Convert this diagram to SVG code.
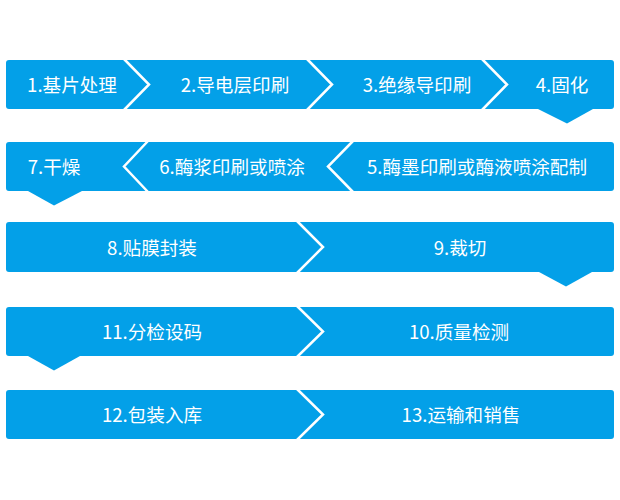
<svg xmlns="http://www.w3.org/2000/svg" width="620" height="500" viewBox="0 0 620 500">
  <style>
    .box { fill: #03A0E8; }
    .sep { fill: none; stroke: #FFFFFF; stroke-width: 2.5; stroke-linejoin: miter; }
    .lbl { font-family: "Noto Sans CJK SC", "Noto Sans", sans-serif; font-size: 18.6px; fill: #FFFFFF; text-anchor: middle; }
    .conn { fill: #03A0E8; }
  </style>
  <rect width="620" height="500" fill="#FFFFFF"/>

  <!-- Row 1 -->
  <g id="n1">
    <path class="box" d="M9,60 H124 L149,84.5 L124,109 H9 A3,3 0 0 1 6,106 V63 A3,3 0 0 1 9,60 Z"/>
    <text class="lbl" x="72" y="92">1.基片处理</text>
  </g>
  <g id="n2">
    <path class="box" d="M124,60 H307 L332,84.5 L307,109 H124 L149,84.5 Z"/>
    <polyline class="sep" points="124,59 149,84.5 124,110"/>
    <text class="lbl" x="235" y="92">2.导电层印刷</text>
  </g>
  <g id="n3">
    <path class="box" d="M307,60 H482 L507,84.5 L482,109 H307 L332,84.5 Z"/>
    <polyline class="sep" points="307,59 332,84.5 307,110"/>
    <text class="lbl" x="417" y="92">3.绝缘导印刷</text>
  </g>
  <g id="n4">
    <path class="box" d="M482,60 H611 A3,3 0 0 1 614,63 V106 A3,3 0 0 1 611,109 H482 L507,84.5 Z"/>
    <polyline class="sep" points="482,59 507,84.5 482,110"/>
    <text class="lbl" x="562" y="92">4.固化</text>
  </g>

  <!-- Row 2 -->
  <g id="n7">
    <path class="box" d="M9,142 H148 L124,166.5 L148,191 H9 A3,3 0 0 1 6,188 V145 A3,3 0 0 1 9,142 Z"/>
    <text class="lbl" x="54" y="174">7.干燥</text>
  </g>
  <g id="n6">
    <path class="box" d="M148,142 H353 L328,166.5 L353,191 H148 L124,166.5 Z"/>
    <polyline class="sep" points="148,141 124,166.5 148,192"/>
    <text class="lbl" x="232" y="174">6.酶浆印刷或喷涂</text>
  </g>
  <g id="n5">
    <path class="box" d="M353,142 H611 A3,3 0 0 1 614,145 V188 A3,3 0 0 1 611,191 H353 L328,166.5 Z"/>
    <polyline class="sep" points="353,141 328,166.5 353,192"/>
    <text class="lbl" x="477" y="174">5.酶墨印刷或酶液喷涂配制</text>
  </g>

  <!-- Row 3 -->
  <g id="n8">
    <path class="box" d="M9,222 H297 L323,247 L297,272 H9 A3,3 0 0 1 6,269 V225 A3,3 0 0 1 9,222 Z"/>
    <text class="lbl" x="152" y="254.5">8.贴膜封装</text>
  </g>
  <g id="n9">
    <path class="box" d="M297,222 H611 A3,3 0 0 1 614,225 V269 A3,3 0 0 1 611,272 H297 L323,247 Z"/>
    <polyline class="sep" points="297,221 323,247 297,273"/>
    <text class="lbl" x="460" y="254.5">9.裁切</text>
  </g>

  <!-- Row 4 -->
  <g id="n11">
    <path class="box" d="M9,307 H297 L323,331.5 L297,356 H9 A3,3 0 0 1 6,353 V310 A3,3 0 0 1 9,307 Z"/>
    <text class="lbl" x="152" y="339">11.分检设码</text>
  </g>
  <g id="n10">
    <path class="box" d="M297,307 H611 A3,3 0 0 1 614,310 V353 A3,3 0 0 1 611,356 H297 L323,331.5 Z"/>
    <polyline class="sep" points="297,306 323,331.5 297,357"/>
    <text class="lbl" x="459" y="339">10.质量检测</text>
  </g>

  <!-- Row 5 -->
  <g id="n12">
    <path class="box" d="M9,390 H297 L323,414.5 L297,439 H9 A3,3 0 0 1 6,436 V393 A3,3 0 0 1 9,390 Z"/>
    <text class="lbl" x="152" y="422">12.包装入库</text>
  </g>
  <g id="n13">
    <path class="box" d="M297,390 H611 A3,3 0 0 1 614,393 V436 A3,3 0 0 1 611,439 H297 L323,414.5 Z"/>
    <polyline class="sep" points="297,389 323,414.5 297,440"/>
    <text class="lbl" x="461" y="422">13.运输和销售</text>
  </g>

  <!-- Connectors: downward pointers between rows -->
  <g id="connectors">
    <polygon class="conn" points="538,108 593,108 593,109 567,123.5 538,109"/>
    <polygon class="conn" points="28,190 82,190 82,191 54,205.5 28,191"/>
    <polygon class="conn" points="539,271 592,271 592,272 566,286.5 539,272"/>
    <polygon class="conn" points="28,355 80,355 80,356 54,370.5 28,356"/>
  </g>
</svg>
